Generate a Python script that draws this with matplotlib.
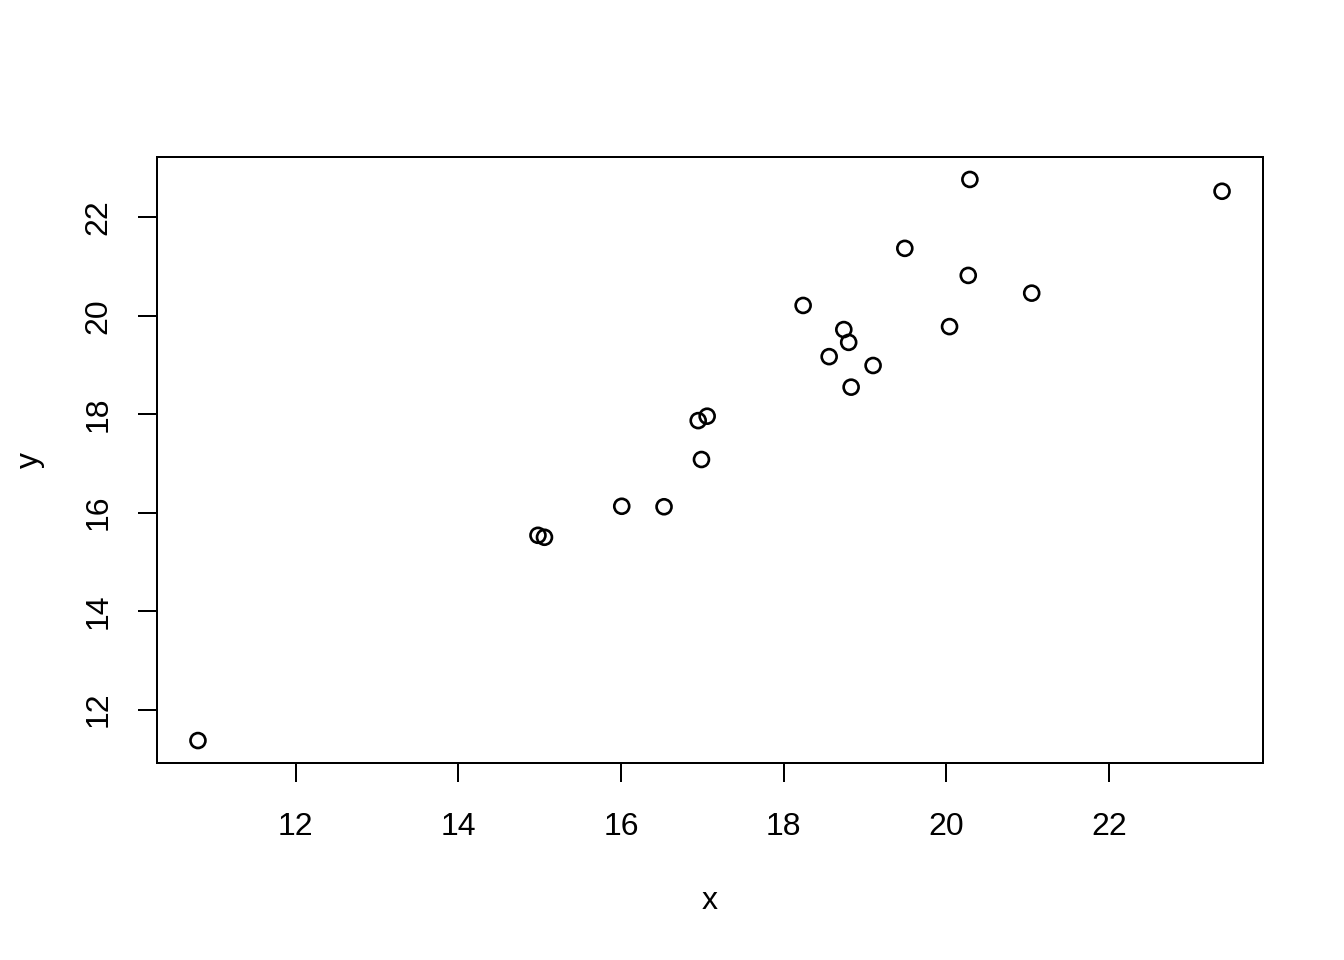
import matplotlib
matplotlib.use('Agg')
import matplotlib.pyplot as plt

plt.rcParams['font.family'] = ['Liberation Sans', 'DejaVu Sans']

# points
x = [10.80, 14.98, 15.06, 16.01, 16.53, 16.95, 17.06, 16.99, 18.24, 18.56,
     18.74, 18.80, 18.83, 19.10, 19.49, 20.04, 20.27, 20.29, 21.05, 23.39]
y = [11.37, 15.54, 15.50, 16.13, 16.12, 17.87, 17.96, 17.08, 20.21, 19.17,
     19.72, 19.46, 18.55, 18.99, 21.37, 19.78, 20.82, 22.77, 20.46, 22.53]
xticks = [12, 14, 16, 18, 20, 22]
yticks = [12, 14, 16, 18, 20, 22]

fig = plt.figure(figsize=(7, 5), dpi=192)
ax = fig.add_axes([157/1344, 1-763/960, (1263-157)/1344, (763-157)/960])

ax.scatter(x, y, s=5.6**2, facecolors='none', edgecolors='black', linewidths=1.0)

# R style 4% padding
xr = max(x) - min(x)
yr = max(y) - min(y)
ax.set_xlim(min(x) - 0.04*xr, max(x) + 0.04*xr)
ax.set_ylim(min(y) - 0.04*yr, max(y) + 0.04*yr)

ax.set_xticks(xticks)
ax.set_yticks(yticks)
ax.set_yticklabels([str(t) for t in yticks], rotation=90, va='center')
ax.tick_params(length=7.2, width=0.75, labelsize=12)
ax.tick_params(axis='x', pad=11)
ax.tick_params(axis='y', pad=9)
for s in ax.spines.values():
    s.set_linewidth(0.75)

ax.set_xlabel('x', fontsize=12)
ax.set_ylabel('y', fontsize=12)
ax.xaxis.set_label_coords(0.5, (763-901)/606, transform=ax.transAxes)
ax.yaxis.set_label_coords((30-157)/1106, 0.5, transform=ax.transAxes)
ax.xaxis.label.set_va('center')
ax.yaxis.label.set_va('center')

fig.savefig('out.png', dpi=192)
